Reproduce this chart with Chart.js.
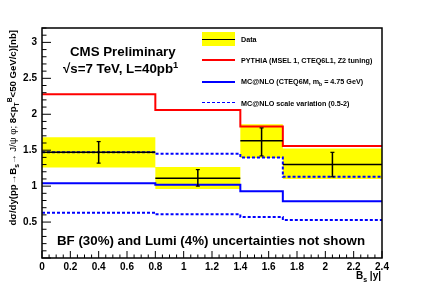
<!DOCTYPE html>
<html>
<head>
<meta charset="utf-8">
<script src="https://cdn.jsdelivr.net/npm/chart.js@4"></script>
<style>
  body { margin: 0; background: #fff; }
  #wrap { position: relative; width: 424px; height: 287px; font-family: "Liberation Sans", Arial, sans-serif; font-weight: bold; color: #000; }
  #wrap canvas { position: absolute; left: 0; top: 0; }
  .txt { position: absolute; white-space: nowrap; line-height: 1; }
  .leg { position: absolute; left: 241px; font-size: 7.2px; white-space: nowrap; line-height: 1; }
  .sym { position: absolute; left: 202px; width: 33px; }
  sub, sup { font-size: 70%; line-height: 0; }
</style>
</head>
<body>
<div id="wrap">
  <canvas id="chart" width="424" height="287"></canvas>

  <div class="txt" style="left:70px; top:45px; font-size:13.3px;">CMS Preliminary</div>
  <div class="txt" style="left:63px; top:62px; font-size:13.3px;">√s=7 TeV, L=40pb<sup>1</sup></div>
  <div class="txt" style="left:57px; top:234px; font-size:13.3px;">BF (30%) and Lumi (4%) uncertainties not shown</div>

  <div class="txt" style="right:43px; top:271px; font-size:10px;">B<sub>s</sub> |y|</div>
  <div class="txt" id="ytitle" style="left:0; top:0; width:232px; height:14px; line-height:14px; text-align:right; font-size:9.6px; transform-origin:0 0; transform:translate(6px,262px) rotate(-90deg);">dσ/dy(pp→B<sub>s</sub>→ <span style="font-weight:normal">J/ψ φ;</span> 8&lt;p<sub>T</sub><sup>B</sup>&lt;50 GeV/c)[nb]</div>

  <!-- легенда -->
  <div class="sym" style="top:32px; height:14px; background:#ffff00;"></div>
  <div class="sym" style="top:39px; height:0; border-top:1.5px solid #000;"></div>
  <div class="sym" style="top:59px; height:0; border-top:2px solid #ff0000;"></div>
  <div class="sym" style="top:80.5px; height:0; border-top:2px solid #0000ff;"></div>
  <div class="sym" style="top:102px; height:0; border-top:1.5px dashed #0000ff;"></div>
  <div class="leg" style="top:36px;">Data</div>
  <div class="leg" style="top:56.5px;">PYTHIA (MSEL 1, CTEQ6L1, Z2 tuning)</div>
  <div class="leg" style="top:78px;">MC@NLO (CTEQ6M, m<sub>b</sub> = 4.75 GeV)</div>
  <div class="leg" style="top:99.5px;">MC@NLO scale variation (0.5-2)</div>
</div>
<script>
// бины по |y| и значения
const binEdges = [0, 0.8, 1.4, 1.7, 2.4];
const binCentres = [0.4, 1.1, 1.55, 2.05];
const dataValues = [1.47, 1.11, 1.63, 1.30];
const statLow = [1.32, 1.00, 1.42, 1.13];
const statHigh = [1.62, 1.23, 1.81, 1.47];
const systLow = [1.26, 0.96, 1.39, 1.10];
const systHigh = [1.68, 1.265, 1.86, 1.525];
const pythia = [2.28, 2.06, 1.83, 1.56];
const mcnlo = [1.04, 1.02, 0.93, 0.79];
const mcnloUp = [1.47, 1.45, 1.40, 1.13];
const mcnloDown = [0.63, 0.61, 0.57, 0.53];
const xTicks = [0, 0.2, 0.4, 0.6, 0.8, 1, 1.2, 1.4, 1.6, 1.8, 2, 2.2, 2.4];
const yTicks = [0.5, 1, 1.5, 2, 2.5, 3];

// гистограмма как ступенчатая линия
function steps(vals) {
    const pts = vals.map((v, i) => ({ x: binEdges[i], y: v }));
    pts.push({ x: binEdges[binEdges.length - 1], y: vals[vals.length - 1] });
    return pts;
}

// горизонтальные отрезки данных с разрывами
const dataSegs = [];
dataValues.forEach((v, i) => {
    dataSegs.push({ x: binEdges[i], y: v }, { x: binEdges[i + 1], y: v }, { x: binEdges[i + 1], y: null });
});
// вертикальные ошибки
const errSegs = [];
binCentres.forEach((c, i) => {
    errSegs.push({ x: c, y: statLow[i] }, { x: c, y: statHigh[i] }, { x: c, y: null });
});

// рамка и внутренние засечки в стиле ROOT
const frame = {
    id: 'frame',
    afterDraw(chart) {
        const ctx = chart.ctx;
        const a = chart.chartArea;
        const xs = chart.scales.x, ys = chart.scales.y;
        ctx.save();
        ctx.strokeStyle = '#000';
        ctx.lineWidth = 1;
        ctx.beginPath();
        for (let i = 0; i <= 48; i++) {
            const px = xs.getPixelForValue(i * 0.05);
            const len = i % 4 === 0 ? 7 : 3.5;
            ctx.moveTo(px, a.bottom);
            ctx.lineTo(px, a.bottom - len);
        }
        for (let i = 0; i <= 32; i++) {
            const py = ys.getPixelForValue(i * 0.1);
            const len = i % 5 === 0 ? 9 : 4.5;
            ctx.moveTo(a.left, py);
            ctx.lineTo(a.left + len, py);
        }
        ctx.stroke();
        ctx.lineWidth = 1.5;
        ctx.strokeRect(a.left, a.top, a.right - a.left, a.bottom - a.top);
        ctx.restore();
    }
};

const common = { pointRadius: 0, fill: false, tension: 0 };
const tickFont = { family: 'Liberation Sans', weight: 'bold', size: 10 };

new Chart(document.getElementById('chart'), {
    type: 'line',
    data: {
        datasets: [
            Object.assign({}, common, { label: 'err', data: errSegs, borderColor: '#000', borderWidth: 1.5, spanGaps: false,
                pointRadius: 2, pointStyle: 'line', pointBorderColor: '#000', pointBorderWidth: 1.2 }),
            Object.assign({}, common, { label: 'Data', data: dataSegs, borderColor: '#000', borderWidth: 1.5, spanGaps: false }),
            Object.assign({}, common, { label: 'up', data: steps(mcnloUp), stepped: 'before', borderColor: '#0000ff', borderWidth: 2, borderDash: [3, 2] }),
            Object.assign({}, common, { label: 'down', data: steps(mcnloDown), stepped: 'before', borderColor: '#0000ff', borderWidth: 2, borderDash: [3, 2] }),
            Object.assign({}, common, { label: 'MC@NLO', data: steps(mcnlo), stepped: 'before', borderColor: '#0000ff', borderWidth: 2 }),
            Object.assign({}, common, { label: 'PYTHIA', data: steps(pythia), stepped: 'before', borderColor: '#ff0000', borderWidth: 2 }),
            Object.assign({}, common, { label: 'systLow', data: steps(systLow), stepped: 'before', borderWidth: 0, borderColor: 'rgba(0,0,0,0)' }),
            Object.assign({}, common, { label: 'systHigh', data: steps(systHigh), stepped: 'before', borderWidth: 0, borderColor: 'rgba(0,0,0,0)',
                fill: '-1', backgroundColor: '#ffff00' })
        ]
    },
    options: {
        responsive: false,
        animation: false,
        events: [],
        layout: { padding: { left: 0, right: 42, top: 28, bottom: 0 } },
        plugins: { legend: { display: false }, tooltip: { enabled: false } },
        scales: {
            x: {
                type: 'linear', min: 0, max: 2.4,
                grid: { display: false, drawTicks: false },
                border: { display: false },
                afterBuildTicks: s => { s.ticks = xTicks.map(v => ({ value: v })); },
                afterFit: s => { s.height = 29; },
                ticks: { autoSkip: false, maxRotation: 0, padding: 3, color: '#000', font: tickFont,
                    callback: v => String(v) }
            },
            y: {
                type: 'linear', min: 0, max: 3.2,
                grid: { display: false, drawTicks: false },
                border: { display: false },
                afterBuildTicks: s => { s.ticks = yTicks.map(v => ({ value: v })); },
                afterFit: s => { s.width = 42; },
                ticks: { autoSkip: false, padding: 5, color: '#000', font: tickFont,
                    callback: v => String(v) }
            }
        }
    },
    plugins: [frame]
});
</script>
</body>
</html>
